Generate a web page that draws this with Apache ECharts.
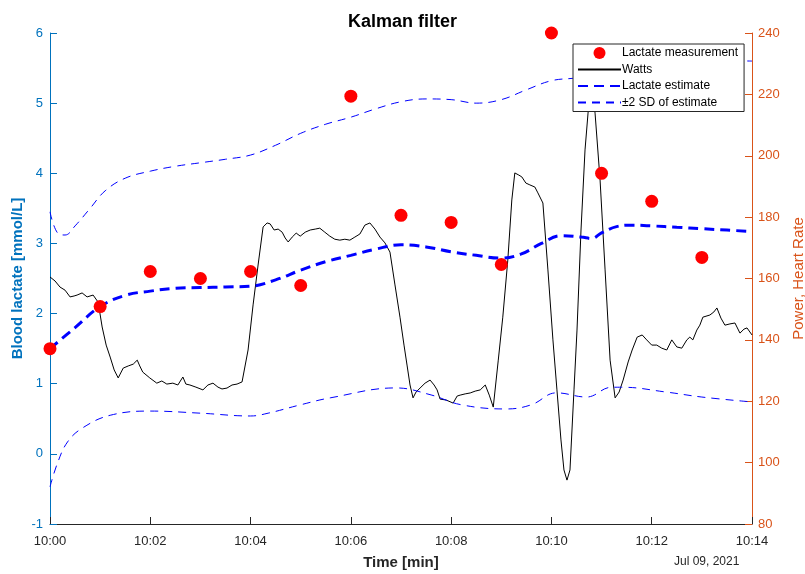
<!DOCTYPE html>
<html>
<head>
<meta charset="utf-8">
<script src="https://cdn.jsdelivr.net/npm/echarts@6/dist/echarts.min.js"></script>
<style>
  html, body { margin: 0; padding: 0; background: #fff; }
  #kalman { width: 805px; height: 574px; }
</style>
</head>
<body>
<div id="kalman"></div>
<script>
// minutes after 10:00
const measTime = [0, 1, 2, 3, 4, 5, 6, 7, 8, 9, 10, 11, 12, 13]
const lactateMeas = [1.5, 2.1, 2.6, 2.5, 2.6, 2.4, 5.1, 3.4, 3.3, 2.7, 6.0, 4.0, 3.6, 2.8]

const estTime = [0, 0.5, 1, 1.5, 2, 2.5, 3, 3.5, 4, 4.5, 5, 5.5, 6, 6.5, 7, 7.5, 8, 8.5, 9, 9.4, 9.8, 10.2, 10.6, 10.8, 11, 11.3, 11.6, 12, 12.5, 13, 13.5, 14]
const estValue = [1.5, 1.8, 2.1, 2.26, 2.32, 2.36, 2.37, 2.38, 2.39, 2.48, 2.62, 2.74, 2.83, 2.92, 2.98, 2.95, 2.88, 2.83, 2.79, 2.85, 3.0, 3.11, 3.09, 3.07, 3.15, 3.24, 3.26, 3.25, 3.23, 3.21, 3.19, 3.17]

const upperTime = [0, 0.15, 0.3, 0.5, 0.8, 1.1, 1.5, 2, 2.5, 3, 3.5, 4, 4.5, 5, 5.5, 6, 6.5, 7, 7.5, 8, 8.5, 9, 9.5, 10, 10.5, 11, 11.5, 12, 13, 14]
const upperValue = [3.45, 3.15, 3.12, 3.25, 3.5, 3.75, 3.93, 4.03, 4.1, 4.15, 4.2, 4.26, 4.4, 4.57, 4.7, 4.8, 4.92, 5.02, 5.06, 5.05, 5.0, 5.05, 5.19, 5.32, 5.36, 5.42, 5.58, 5.62, 5.61, 5.6]

const lowerTime = [0, 0.15, 0.35, 0.65, 1.2, 2, 3, 4, 4.35, 5, 5.6, 6.9, 7.6, 8.2, 9.1, 9.6, 10.1, 10.7, 11.2, 11.4, 12.3, 13, 14]
const lowerValue = [-0.47, -0.13, 0.17, 0.37, 0.55, 0.61, 0.58, 0.54, 0.58, 0.7, 0.8, 0.94, 0.84, 0.7, 0.64, 0.7, 0.87, 0.81, 0.95, 0.95, 0.88, 0.81, 0.74]

const wattsTime = [0, 0.1, 0.2, 0.3, 0.4, 0.48, 0.54, 0.64, 0.74, 0.86, 0.96, 1.04, 1.12, 1.2, 1.28, 1.36, 1.46, 1.56, 1.66, 1.74, 1.79, 1.85, 1.99,
  2.13, 2.23, 2.33, 2.45, 2.55, 2.65, 2.71, 2.79, 2.91, 3.05, 3.15, 3.25, 3.35, 3.43, 3.53, 3.63, 3.73, 3.83, 3.85, 3.95,
  4.05, 4.15, 4.25, 4.33, 4.39, 4.47, 4.55, 4.63, 4.69, 4.75, 4.83, 4.91, 4.99, 5.09, 5.19, 5.29, 5.38, 5.48, 5.58, 5.68, 5.78, 5.88, 5.98,
  6.08, 6.18, 6.28, 6.38, 6.48, 6.58, 6.68, 6.78, 6.88, 6.98, 7.06, 7.12, 7.18, 7.24, 7.3, 7.38, 7.48, 7.58, 7.66, 7.72, 7.78, 7.9,
  8.04, 8.12, 8.18, 8.28, 8.38, 8.48, 8.58, 8.68, 8.76, 8.84, 8.94, 9.03, 9.13, 9.21, 9.27, 9.35, 9.41, 9.49, 9.57, 9.67, 9.73, 9.83, 9.93,
  10.03, 10.11, 10.19, 10.25, 10.31, 10.37, 10.45, 10.51, 10.59, 10.67, 10.73, 10.79, 10.87, 10.97, 11.07, 11.17, 11.27, 11.35, 11.43, 11.53,
  11.61, 11.71, 11.81, 11.9, 12.0, 12.1, 12.2, 12.3, 12.4, 12.5, 12.6, 12.7, 12.76, 12.82, 12.9, 12.96, 13.02, 13.16, 13.24, 13.3, 13.38,
  13.46, 13.56, 13.66, 13.76, 13.84, 13.9, 14]
const wattsValue = [160.5, 159.2, 157.2, 156.2, 154.0, 154.3, 154.6, 155.3, 154.0, 154.6, 152.3, 144.2, 138.3, 134.4, 130.2, 127.6, 130.8, 131.5, 132.1, 133.4, 131.5, 129.5, 127.6,
  125.9, 126.6, 125.6, 125.9, 125.3, 127.9, 125.6, 125.3, 124.6, 123.7, 125.3, 125.9, 124.6, 124.0, 124.3, 125.3, 125.6, 126.3, 125.9, 136.7,
  151.4, 164.4, 176.8, 178.1, 177.8, 175.8, 176.1, 175.1, 173.2, 171.9, 173.5, 174.8, 173.8, 175.1, 175.8, 176.1, 176.4, 175.1, 173.8, 172.8, 172.5, 172.8, 172.5,
  173.5, 174.5, 177.4, 178.1, 176.1, 173.5, 171.6, 168.6, 157.9, 147.4, 138.3, 131.8, 125.3, 121.1, 123.0, 124.3, 125.9, 126.9, 125.3, 123.7, 120.7, 120.4,
  119.4, 121.7, 122.0, 122.4, 122.7, 123.3, 123.7, 125.3, 122.0, 118.1, 133.4, 147.4, 166.0, 185.6, 194.4, 193.7, 193.1, 191.1, 190.5, 189.8, 187.9, 184.6, 162.8,
  140.0, 123.7, 107.4, 97.6, 94.3, 97.6, 123.7, 143.2, 175.8, 201.9, 213.9, 225.3, 213.9, 192.1, 162.8, 133.4, 121.1, 123.0, 126.9, 132.8,
  136.7, 140.9, 141.6, 140.0, 138.3, 138.3, 137.3, 136.7, 140.0, 137.7, 137.3, 140.0, 140.9, 140.0, 143.2, 144.8, 147.4, 148.1, 149.1, 150.4, 147.1,
  144.8, 145.2, 145.5, 142.2, 143.5, 143.9, 141.6]

const xTicks = ['10:00', '10:02', '10:04', '10:06', '10:08', '10:10', '10:12', '10:14']

function pairs(xs, ys) {
  return xs.map((x, i) => [x, ys[i]])
}

const chart = echarts.init(document.getElementById('kalman'))

// legend entries: hide the symbol of line series, keep the line sample
const noSymbol = { opacity: 0 }

const option = {
  animation: false,
  backgroundColor: '#fff',
  textStyle: { fontFamily: 'Liberation Sans, Arial, sans-serif' },
  title: [
    {
      text: 'Kalman filter',
      left: 'center',
      top: 8,
      textStyle: { fontSize: 18, fontWeight: 'bold', color: '#000' }
    },
    {
      text: 'Jul 09, 2021',
      left: 669,
      top: 551,
      textStyle: { fontSize: 12, fontWeight: 'normal', color: '#262626' }
    }
  ],
  grid: { left: 50, right: 53, top: 33, bottom: 50, outerBoundsMode: 'none', containLabel: false },
  legend: {
    orient: 'vertical',
    left: 573,
    top: 44,
    padding: [3, 6, 3, 4],
    itemGap: 4.5,
    itemWidth: 43,
    itemHeight: 12,
    backgroundColor: '#fff',
    borderColor: '#262626',
    borderWidth: 1,
    borderRadius: 0,
    textStyle: { fontSize: 12, color: '#000', padding: [0, 0, 0, -4] },
    data: [
      { name: 'Lactate measurement', itemStyle: { opacity: 1 } },
      { name: 'Watts', itemStyle: noSymbol },
      { name: 'Lactate estimate', itemStyle: noSymbol },
      { name: '\u00b12 SD of estimate', itemStyle: noSymbol }
    ]
  },
  xAxis: {
    type: 'value',
    min: 0,
    max: 14,
    interval: 2,
    name: 'Time [min]',
    nameLocation: 'middle',
    nameGap: 31,
    nameMoveOverlap: false,
    nameTextStyle: { fontSize: 15, fontWeight: 'bold', color: '#262626' },
    axisLine: { onZero: false, lineStyle: { color: '#262626' } },
    axisTick: { inside: true, length: 7, lineStyle: { color: '#262626' } },
    axisLabel: {
      fontSize: 13,
      color: '#262626',
      margin: 11,
      formatter: v => xTicks[Math.round(v / 2)]
    },
    splitLine: { show: false }
  },
  yAxis: [
    {
      type: 'value',
      min: -1,
      max: 6,
      interval: 1,
      position: 'left',
      name: 'Blood lactate [mmol/L]',
      nameLocation: 'middle',
      nameRotate: 90,
      nameGap: 25,
      nameMoveOverlap: false,
      nameTextStyle: { fontSize: 15, fontWeight: 'bold', color: '#0072BD' },
      axisLine: { show: true, lineStyle: { color: '#0072BD' } },
      axisTick: { show: true, inside: true, length: 7, lineStyle: { color: '#0072BD' } },
      axisLabel: { fontSize: 13, color: '#0072BD', margin: 7 },
      splitLine: { show: false }
    },
    {
      type: 'value',
      min: 80,
      max: 240,
      interval: 20,
      position: 'right',
      name: 'Power, Heart Rate',
      nameLocation: 'middle',
      nameRotate: 90,
      nameGap: 39,
      nameMoveOverlap: false,
      nameTextStyle: { fontSize: 15, color: '#D95319' },
      axisLine: { show: true, lineStyle: { color: '#D95319' } },
      axisTick: { show: true, inside: true, length: 7, lineStyle: { color: '#D95319' } },
      axisLabel: { fontSize: 13, color: '#D95319', margin: 6 },
      splitLine: { show: false }
    }
  ],
  series: [
    {
      name: 'Watts',
      type: 'line',
      yAxisIndex: 1,
      data: pairs(wattsTime, wattsValue),
      symbol: 'none',
      lineStyle: { color: '#000', width: 1 },
      itemStyle: { color: '#000' },
      z: 2
    },
    {
      name: '\u00b12 SD of estimate',
      type: 'line',
      data: pairs(upperTime, upperValue),
      smooth: 0.4,
      symbol: 'none',
      lineStyle: { color: '#0000FF', width: 1, type: [8, 6] },
      itemStyle: { color: '#0000FF' },
      z: 3
    },
    {
      name: '\u00b12 SD of estimate',
      type: 'line',
      data: pairs(lowerTime, lowerValue),
      smooth: 0.4,
      symbol: 'none',
      lineStyle: { color: '#0000FF', width: 1, type: [8, 6] },
      itemStyle: { color: '#0000FF' },
      z: 3
    },
    {
      name: 'Lactate estimate',
      type: 'line',
      data: pairs(estTime, estValue),
      smooth: 0.4,
      symbol: 'none',
      lineStyle: { color: '#0000FF', width: 3, type: [10, 6] },
      itemStyle: { color: '#0000FF' },
      z: 4
    },
    {
      name: 'Lactate measurement',
      type: 'scatter',
      data: pairs(measTime, lactateMeas),
      symbol: 'circle',
      symbolSize: 13,
      itemStyle: { color: '#FF0000', opacity: 1 },
      z: 5
    }
  ]
}

chart.setOption(option)
</script>
</body>
</html>
